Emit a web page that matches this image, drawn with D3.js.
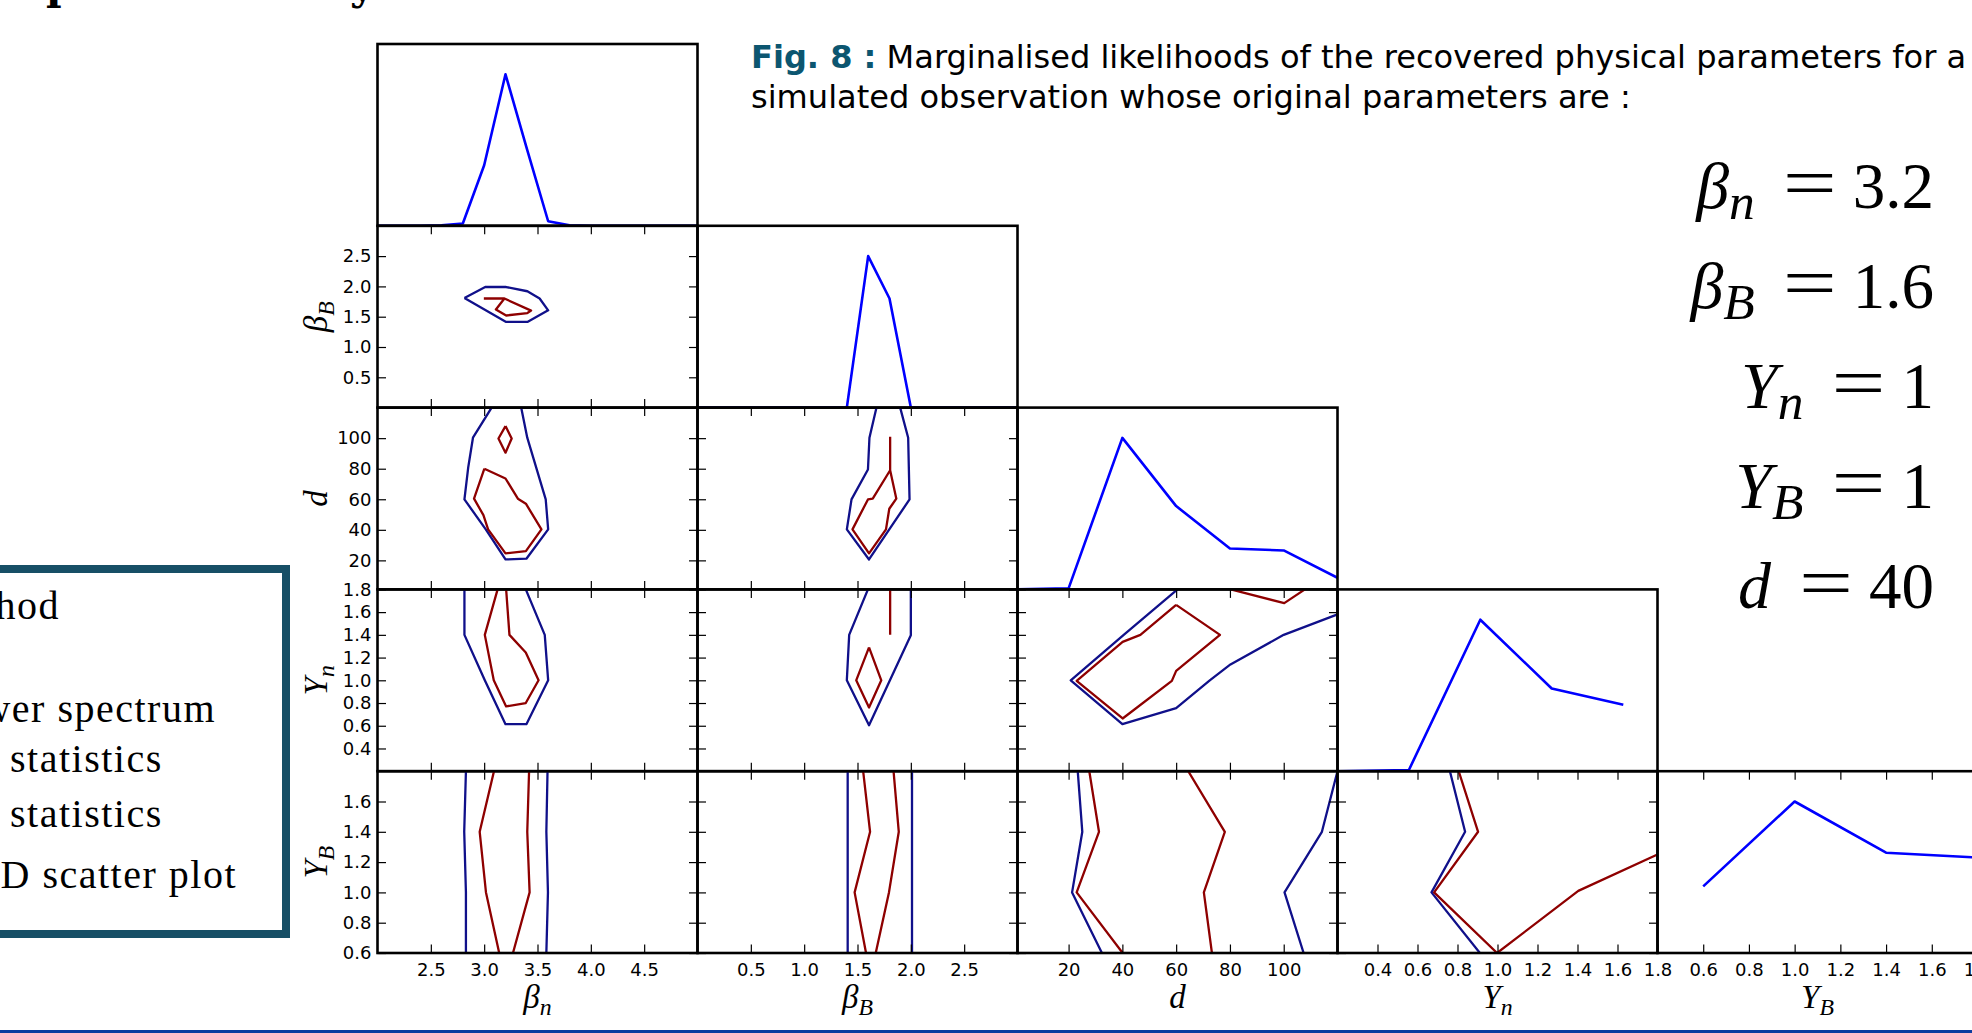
<!DOCTYPE html>
<html><head><meta charset="utf-8">
<script src="https://cdn.jsdelivr.net/npm/d3@7"></script>
<style>html,body{margin:0;padding:0;background:#fff;overflow:hidden}</style>
</head><body>
<svg id="chart" width="1972" height="1033"></svg>
<script>
// ---------------- DATA ----------------
const paramMain = ["β", "β", "d", "Y", "Y"];
const paramSub  = ["n", "B", "", "n", "B"];
const xDomains = [[2, 5], [0, 3], [1, 120], [0.2, 1.8], [0.4, 1.8]];
const yDomains = [null, [0, 3], [1, 120], [0.2, 1.8], [0.6, 1.8]];
const margDomain = [0, 1.2];
const xTickValues = [[2.5, 3.0, 3.5, 4.0, 4.5], [0.5, 1.0, 1.5, 2.0, 2.5], [20, 40, 60, 80, 100],
  [0.4, 0.6, 0.8, 1.0, 1.2, 1.4, 1.6, 1.8], [0.6, 0.8, 1.0, 1.2, 1.4, 1.6, 1.8]];
const yTickValues = [null, [0.5, 1.0, 1.5, 2.0, 2.5], [20, 40, 60, 80, 100],
  [0.4, 0.6, 0.8, 1.0, 1.2, 1.4, 1.6, 1.8], [0.6, 0.8, 1.0, 1.2, 1.4, 1.6]];

// 1D marginalised likelihoods (normalised to peak = 1)
const margBetaN_x = [2.0, 2.2, 2.4, 2.6, 2.8, 3.0, 3.2, 3.4, 3.6, 3.8, 4.0, 4.5, 5.0];
const margBetaN_y = [0, 0, 0, 0.004, 0.015, 0.40, 1.0, 0.51, 0.03, 0.003, 0, 0, 0];
const margBetaB_x = [0, 0.5, 1.0, 1.4, 1.6, 1.8, 2.0, 2.5, 3.0];
const margBetaB_y = [0, 0, 0, 0, 1.0, 0.72, 0, 0, 0];
const margD_x = [1, 20, 40, 60, 80, 100, 120];
const margD_y = [0, 0.007, 1.0, 0.55, 0.27, 0.257, 0.077];
const margYn_x = [0.2, 0.557, 0.914, 1.271, 1.629];
const margYn_y = [0, 0.008, 1.0, 0.546, 0.438];
const margYB_x = [0.6, 1.0, 1.4, 1.8];
const margYB_y = [0.44, 1.0, 0.662, 0.63];

// 2D contours [x, y] in parameter units (outer = navy, inner = dark red)
const betaB_betaN_outer = [[2.815,1.81],[3.01,1.99],[3.206,1.99],[3.405,1.92],[3.52,1.80],[3.60,1.605],[3.405,1.414],[3.206,1.414],[2.815,1.81]];
const betaB_betaN_inner = [[2.997,1.80],[3.19,1.80],[3.44,1.60],[3.405,1.56],[3.206,1.52],[3.11,1.62],[3.19,1.80]];

const d_betaN_outer = [[3.07,120],[2.895,100.3],[2.85,80.6],[2.815,59.9],[3.015,40.3],[3.20,20.6],[3.396,21.1],[3.60,40.3],[3.577,59.9],[3.404,100.3],[3.347,120]];
const d_betaN_inner1 = [[3.20,107.9],[3.258,99.8],[3.20,90.5],[3.134,99.8],[3.20,107.9]];
const d_betaN_inner2 = [[3.002,80.0],[3.20,73.6],[3.316,60.4],[3.391,57.1],[3.537,40.3],[3.391,26.1],[3.20,24.6],[3.037,40.3],[2.993,49.6],[2.905,60.4],[3.002,80.0]];

const d_betaB_outer = [[1.678,120],[1.612,100.3],[1.598,79.5],[1.444,59.9],[1.40,40.3],[1.608,20.6],[1.798,40.3],[1.988,59.9],[1.975,100.3],[1.90,120]];
const d_betaB_inner = [[1.806,100.9],[1.806,79],[1.864,60.4],[1.798,53.8],[1.767,40.3],[1.608,24.6],[1.453,40.3],[1.598,59.9],[1.643,60.4],[1.806,79]];

const Yn_betaN_outer = [[2.815,1.8],[2.815,1.4],[3.006,1.0],[3.20,0.614],[3.396,0.614],[3.60,1.0],[3.568,1.4],[3.39,1.8]];
const Yn_betaN_inner = [[3.126,1.8],[3.006,1.40],[3.09,1.0],[3.206,0.77],[3.39,0.80],[3.51,1.0],[3.39,1.245],[3.237,1.40],[3.206,1.8]];

const Yn_betaB_outer = [[1.598,1.8],[1.422,1.40],[1.40,1.0],[1.608,0.605],[2.0,1.397],[2.0,1.8]];
const Yn_betaB_inner1 = [[1.806,1.8],[1.806,1.40]];
const Yn_betaB_inner2 = [[1.608,1.29],[1.723,1.0],[1.608,0.76],[1.488,1.0],[1.608,1.29]];

const Yn_d_outer = [[60.5,1.8],[40.5,1.4],[20.8,1.0],[40,0.614],[60,0.755],[72.5,1.0],[80.2,1.14],[100,1.40],[120,1.58]];
const Yn_d_inner1 = [[60,1.664],[76.3,1.40],[60,1.083],[58.4,0.995],[40.1,0.664],[23,0.995],[40.1,1.338],[46.7,1.40],[60,1.664]];
const Yn_d_inner2 = [[80.3,1.8],[100.2,1.679],[107.9,1.8]];

const YB_betaN_outerL = [[2.829,1.8],[2.813,1.4],[2.829,1.0],[2.829,0.6]];
const YB_betaN_outerR = [[3.594,1.8],[3.583,1.4],[3.598,1.0],[3.583,0.6]];
const YB_betaN_innerL = [[3.092,1.8],[2.958,1.4],[3.017,1.0],[3.141,0.6]];
const YB_betaN_innerR = [[3.421,1.8],[3.404,1.4],[3.426,1.0],[3.27,0.6]];

const YB_betaB_outerL = [[1.408,1.8],[1.408,0.6]];
const YB_betaB_outerR = [[2.011,1.8],[2.011,0.6]];
const YB_betaB_innerL = [[1.553,1.8],[1.618,1.4],[1.473,1.0],[1.58,0.6]];
const YB_betaB_innerR = [[1.838,1.8],[1.887,1.4],[1.795,1.0],[1.671,0.6]];

const YB_d_outerL = [[23.4,1.8],[25.1,1.4],[21.3,1.0],[32.4,0.6]];
const YB_d_innerL = [[27.7,1.8],[31.3,1.4],[23,1.0],[40.1,0.6]];
const YB_d_innerR = [[64.5,1.8],[78.1,1.4],[70.3,1.0],[73.3,0.6]];
const YB_d_outerR = [[120,1.8],[114.2,1.4],[100.3,1.0],[107.4,0.6]];

const YB_Yn_outer = [[0.762,1.8],[0.838,1.4],[0.67,1.0],[0.912,0.6]];
const YB_Yn_inner = [[0.806,1.8],[0.903,1.4],[0.683,1.0],[0.998,0.6],[1.404,1.01],[1.797,1.249]];

// Caption / annotation texts
const captionBold = "Fig. 8 :";
const captionLine1 = " Marginalised likelihoods of the recovered physical parameters for a";
const captionLine2 = "simulated observation whose original parameters are :";
const trueMain = ["β", "β", "Y", "Y", "d"];
const trueSub  = ["n", "B", "n", "B", ""];
const trueVals = ["3.2", "1.6", "1", "1", "40"];
const legendLines = ["Method", "Power spectrum", "statistics", "statistics", "2D scatter plot"];
const headingFragments = ["p", "y"];

// ---------------- LAYOUT ----------------
const W = 1972, H = 1033;
const X0 = 377.5, Y0 = 44, CW = 320, RH = 181.8;
const SANS = "'DejaVu Sans', Verdana, sans-serif";
const SERIF = "'Liberation Serif', 'Times New Roman', serif";
const NAVY = "#10108a", DRED = "#8e0000", BLUE = "#0000ff";

const svg = d3.select("#chart");
svg.append("rect").attr("width", W).attr("height", H).attr("fill", "#fff");
const defs = svg.append("defs");

const xs = xDomains.map((dm, c) => d3.scaleLinear().domain(dm).range([X0 + c * CW, X0 + (c + 1) * CW]));
const ys = yDomains.map((dm, r) => dm ? d3.scaleLinear().domain(dm).range([Y0 + (r + 1) * RH, Y0 + r * RH]) : null);
const ms = [0, 1, 2, 3, 4].map(r => d3.scaleLinear().domain(margDomain).range([Y0 + (r + 1) * RH, Y0 + r * RH]));

const margs = [[margBetaN_x, margBetaN_y], [margBetaB_x, margBetaB_y], [margD_x, margD_y], [margYn_x, margYn_y], [margYB_x, margYB_y]];
const contours = {
  "1-0": {outer: [betaB_betaN_outer], inner: [betaB_betaN_inner]},
  "2-0": {outer: [d_betaN_outer], inner: [d_betaN_inner1, d_betaN_inner2]},
  "2-1": {outer: [d_betaB_outer], inner: [d_betaB_inner]},
  "3-0": {outer: [Yn_betaN_outer], inner: [Yn_betaN_inner]},
  "3-1": {outer: [Yn_betaB_outer], inner: [Yn_betaB_inner1, Yn_betaB_inner2]},
  "3-2": {outer: [Yn_d_outer], inner: [Yn_d_inner1, Yn_d_inner2]},
  "4-0": {outer: [YB_betaN_outerL, YB_betaN_outerR], inner: [YB_betaN_innerL, YB_betaN_innerR]},
  "4-1": {outer: [YB_betaB_outerL, YB_betaB_outerR], inner: [YB_betaB_innerL, YB_betaB_innerR]},
  "4-2": {outer: [YB_d_outerL, YB_d_outerR], inner: [YB_d_innerL, YB_d_innerR]},
  "4-3": {outer: [YB_Yn_outer], inner: [YB_Yn_inner]}
};

const fmt = v => Number.isInteger(v) && v >= 10 ? String(v) : d3.format(".1f")(v);
const TK = 8.5;

function styleAxis(g) {
  g.select(".domain").remove();
  g.selectAll(".tick line").attr("stroke", "#000").attr("stroke-width", 1.2);
  g.selectAll(".tick text").attr("fill", "#000").attr("font-family", SANS).attr("font-size", 18);
}

for (let r = 0; r < 5; r++) {
  for (let c = 0; c <= r; c++) {
    const x = xs[c];
    const px = X0 + c * CW, py = Y0 + r * RH;
    const id = "clip" + r + c;
    defs.append("clipPath").attr("id", id).append("rect").attr("x", px).attr("y", py).attr("width", CW).attr("height", RH);
    const g = svg.append("g");
    const lg = g.append("g").attr("clip-path", "url(#" + id + ")");
    if (r === c) {
      const [mx, my] = margs[c];
      const pts = mx.map((v, i) => [v, my[i]]);
      lg.append("path").attr("d", d3.line().x(d => x(d[0])).y(d => ms[r](d[1]))(pts))
        .attr("fill", "none").attr("stroke", BLUE).attr("stroke-width", 2.6).attr("stroke-linejoin", "round");
      if (r === 4) {
        g.append("g").attr("transform", `translate(0,${py + RH})`)
          .call(d3.axisBottom(x).tickValues(xTickValues[c]).tickSize(-TK).tickPadding(10).tickFormat(fmt)).call(styleAxis);
        g.append("g").attr("transform", `translate(0,${py})`)
          .call(d3.axisTop(x).tickValues(xTickValues[c]).tickSize(-TK).tickFormat("")).call(styleAxis);
      }
    } else {
      const y = ys[r];
      const line = d3.line().x(d => x(d[0])).y(d => y(d[1]));
      const cs = contours[r + "-" + c];
      cs.outer.forEach(p => lg.append("path").attr("d", line(p)).attr("fill", "none").attr("stroke", NAVY).attr("stroke-width", 2.3).attr("stroke-linejoin", "round"));
      cs.inner.forEach(p => lg.append("path").attr("d", line(p)).attr("fill", "none").attr("stroke", DRED).attr("stroke-width", 2.3).attr("stroke-linejoin", "round"));
      g.append("g").attr("transform", `translate(0,${py + RH})`)
        .call(d3.axisBottom(x).tickValues(xTickValues[c]).tickSize(-TK).tickPadding(10).tickFormat(r === 4 ? fmt : "")).call(styleAxis);
      g.append("g").attr("transform", `translate(0,${py})`)
        .call(d3.axisTop(x).tickValues(xTickValues[c]).tickSize(-TK).tickFormat("")).call(styleAxis);
      g.append("g").attr("transform", `translate(${px},0)`)
        .call(d3.axisLeft(y).tickValues(yTickValues[r]).tickSize(-TK).tickPadding(6).tickFormat(c === 0 ? fmt : "")).call(styleAxis);
      g.append("g").attr("transform", `translate(${px + CW},0)`)
        .call(d3.axisRight(y).tickValues(yTickValues[r]).tickSize(-TK).tickFormat("")).call(styleAxis);
    }
    g.append("rect").attr("x", px).attr("y", py).attr("width", CW).attr("height", RH)
      .attr("fill", "none").attr("stroke", "#000").attr("stroke-width", 2.6);
  }
}

// math label helper
function mathLabel(parent, main, sub, size, subRatio, subShift) {
  const t = parent.append("text").attr("font-family", SERIF).attr("font-size", size).attr("fill", "#000");
  t.append("tspan").attr("font-style", "italic").text(main);
  if (sub) t.append("tspan").attr("font-style", "italic").attr("font-size", size * subRatio).attr("dy", size * subShift).text(sub);
  return t;
}

// x-axis labels
for (let c = 0; c < 5; c++) {
  mathLabel(svg, paramMain[c], paramSub[c], 33, 0.72, 0.2)
    .attr("x", X0 + (c + 0.5) * CW).attr("y", 1008).attr("text-anchor", "middle");
}
// y-axis labels
for (let r = 1; r < 5; r++) {
  const cy = Y0 + (r + 0.5) * RH;
  mathLabel(svg, paramMain[r], paramSub[r], 33, 0.72, 0.2)
    .attr("text-anchor", "middle").attr("transform", `translate(327,${cy}) rotate(-90)`);
}

// caption
const cap = svg.append("g");
const l2 = cap.append("text").attr("x", 751).attr("y", 108).attr("font-family", SANS).attr("font-size", 26).attr("fill", "#000").text(captionLine2);
const nat = l2.node().getComputedTextLength();
const capSize = 26 * 880 / nat;
l2.attr("font-size", capSize);
const l1 = cap.append("text").attr("x", 751).attr("y", 68).attr("font-family", SANS).attr("font-size", capSize).attr("fill", "#000");
l1.append("tspan").attr("font-weight", "bold").attr("fill", "#0c5670").text(captionBold);
l1.append("tspan").text(captionLine1);

// true parameter values (right side)
const baseY = [208, 308, 408, 508, 608];
trueVals.forEach((v, i) => {
  const g = svg.append("g");
  const num = g.append("text").attr("x", 1934).attr("y", baseY[i]).attr("text-anchor", "end")
    .attr("font-family", SERIF).attr("font-size", 65).attr("fill", "#000").text(v);
  const nb = num.node().getBBox();
  const eq = g.append("text").attr("x", nb.x - 16).attr("y", baseY[i] - 1).attr("text-anchor", "end")
    .attr("font-family", SERIF).attr("font-size", 72).attr("fill", "#000")
    .attr("textLength", 54).attr("lengthAdjust", "spacingAndGlyphs").text("=");
  const eb = eq.node().getBBox();
  mathLabel(g, trueMain[i], trueSub[i], 66, 0.78, 0.16).attr("x", eb.x - 28).attr("y", baseY[i]).attr("text-anchor", "end");
});

// legend box (partly off-screen)
svg.append("rect").attr("x", -20).attr("y", 569).attr("width", 306).attr("height", 365)
  .attr("fill", "none").attr("stroke", "#174f66").attr("stroke-width", 8);
const legPos = [[60, 619, "end"], [216, 722, "end"], [10, 772, "start"], [10, 827, "start"], [237, 888, "end"]];
legendLines.forEach((s, i) => {
  svg.append("text").attr("x", legPos[i][0]).attr("y", legPos[i][1]).attr("text-anchor", legPos[i][2])
    .attr("font-family", SERIF).attr("font-size", 40).attr("letter-spacing", 1.5).attr("fill", "#000").text(s);
});

// fragments of a heading cut off at the top (only descenders visible)
const fragX = [46, 350];
headingFragments.forEach((s, i) => {
  svg.append("text").attr("x", fragX[i]).attr("y", -1).attr("font-family", "'DejaVu Serif', serif")
    .attr("font-weight", "bold").attr("font-size", 42).attr("fill", "#000").text(s);
});

// bottom rule
svg.append("rect").attr("x", 0).attr("y", 1030).attr("width", W).attr("height", 3).attr("fill", "#0b3d9f");
</script>
</body></html>
